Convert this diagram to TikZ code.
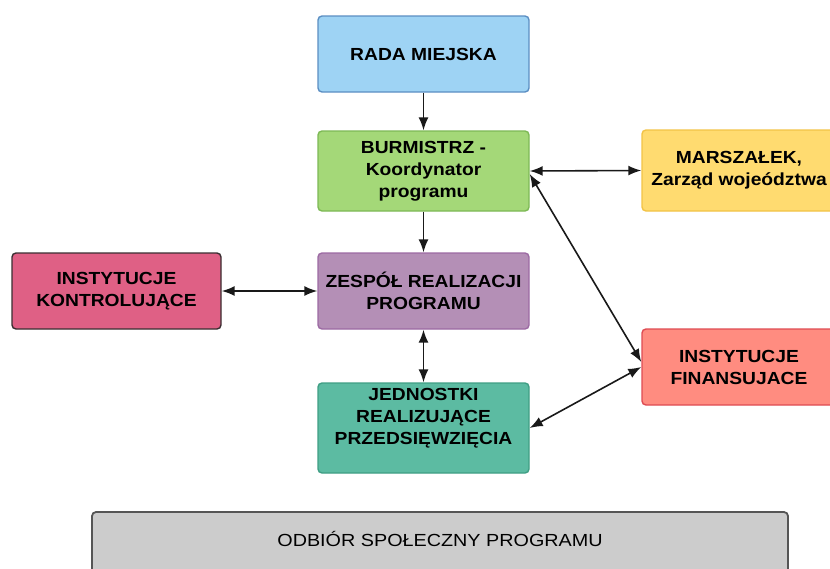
\documentclass[tikz,border=0pt]{standalone}
\usepackage{fontspec}
\setmainfont{Liberation Sans}
\newfontfamily\boxfont[FakeStretch=1.1]{Liberation Sans}
\newfontfamily\bottomfont[FakeStretch=1.13]{Liberation Sans}
\usetikzlibrary{arrows.meta}
\definecolor{radaF}{HTML}{9ED3F4}\definecolor{radaD}{HTML}{5B8EC2}
\definecolor{burmF}{HTML}{A4D878}\definecolor{burmD}{HTML}{7DB955}
\definecolor{marsF}{HTML}{FFDB70}\definecolor{marsD}{HTML}{F2C346}
\definecolor{kontF}{HTML}{DF6085}\definecolor{kontD}{HTML}{3A2E31}
\definecolor{zespF}{HTML}{B48FB6}\definecolor{zespD}{HTML}{9C6AA3}
\definecolor{jednF}{HTML}{5CBBA2}\definecolor{jednD}{HTML}{3F9E84}
\definecolor{finF}{HTML}{FF8C80}\definecolor{finD}{HTML}{DE4B52}
\definecolor{botF}{HTML}{CCCCCC}\definecolor{botD}{HTML}{555555}
\tikzset{
  box/.style={draw, rounded corners=4pt, line width=1.4pt, align=center,
    font=\boxfont\bfseries\fontsize{17.5}{22}\selectfont, text=black,
    minimum width=211pt, minimum height=76pt, inner sep=0pt},
  txt/.style={align=center, font=\boxfont\bfseries\fontsize{17.5}{22}\selectfont, text=black, inner sep=0pt},
  conn/.style={line width=1.6pt, draw=black!90},
  tip/.style={-{Latex[length=13pt,width=10pt]}},
  tips/.style={{Latex[length=13pt,width=10pt]}-{Latex[length=13pt,width=10pt]}}
}
\begin{document}
\begin{tikzpicture}[x=1pt,y=-1pt]
\useasboundingbox (0,0) rectangle (830,568);
\clip (0,0) rectangle (830,568);
\node[box, fill=radaF, draw=radaD] (rada) at (423.5,54) {RADA MIEJSKA};
\node[box, fill=burmF, draw=burmD, minimum height=80pt] (burm) at (423.5,171) {BURMISTRZ -\\Koordynator\\programu};
\node[box, fill=zespF, draw=zespD] (zesp) at (423.5,291) {ZESPÓŁ REALIZACJI\\PROGRAMU};
\node[box, fill=jednF, draw=jednD, minimum height=90pt] (jedn) at (423.5,428) {};
\node[txt] (jednt) at (423.5,418) {JEDNOSTKI\\REALIZUJĄCE\\PRZEDSIĘWZIĘCIA};
\node[box, fill=kontF, draw=kontD, minimum width=209pt] (kont) at (116.5,291) {INSTYTUCJE\\KONTROLUJĄCE};
\node[box, fill=marsF, draw=marsD, minimum width=194pt, minimum height=81pt] (mars) at (739,170.5) {MARSZAŁEK,\\Zarząd wojeództwa};
\node[box, fill=finF, draw=finD, minimum width=194pt] (fin) at (739,367) {INSTYTUCJE\\FINANSUJACE};
\node[box, fill=botF, draw=botD, line width=1.8pt, minimum width=696pt, minimum height=80pt] (bot) at (440,552) {};
\node[inner sep=0pt, font=\bottomfont\fontsize{17.5}{21}\selectfont, text=black] (bott) at (440,539) {ODBIÓR SPOŁECZNY PROGRAMU};
\draw[conn, tip] (rada) -- (burm);
\draw[conn, tip] (burm) -- (zesp);
\draw[conn, tips] (zesp) -- (jedn);
\draw[conn, tips] (kont.east) -- (zesp.west);
\draw[conn, tips] (burm.east) -- (mars.west);
\draw[conn, tips] ([yshift=-3pt]burm.east) -- ([yshift=5pt]fin.west);
\draw[conn, tips] (jedn.east) -- (fin.west);
\end{tikzpicture}
\end{document}
